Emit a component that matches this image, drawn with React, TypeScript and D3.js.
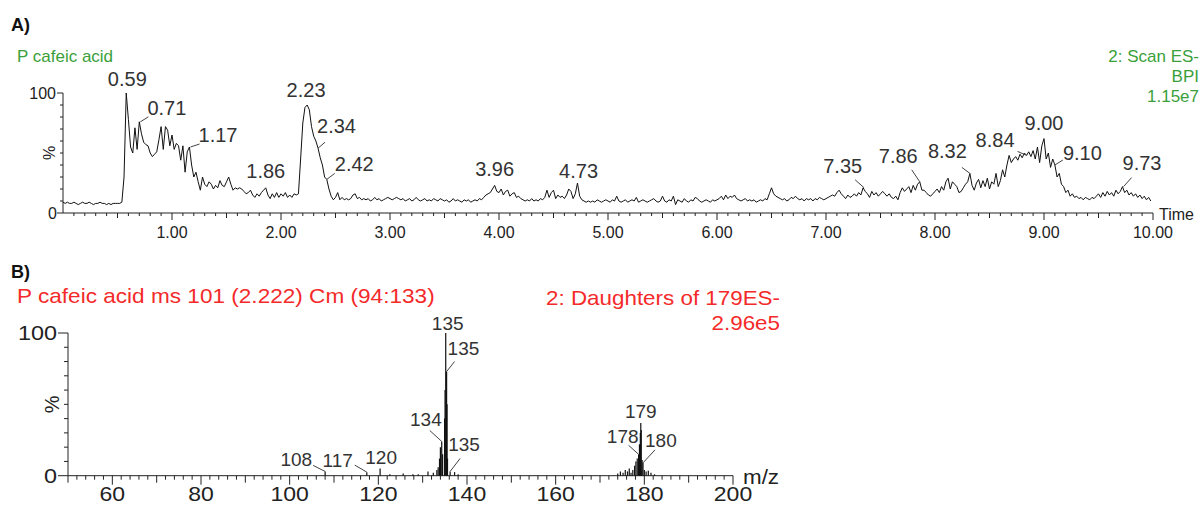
import React from "react";
import * as d3 from "d3";

const FONT = "'Liberation Sans', Arial, sans-serif";
const GREEN = "#3a9f3a";
const RED = "#f42a2a";
const INK = "#222";

// A) base peak chromatogram, % intensity read every 0.02 min from 0.00
const chromStep = 0.02;
const chromPct: number[] = [
  9, 8, 9, 8, 8, 9, 8, 7, 8, 9, 8, 8, 9, 8, 7, 8, 8, 9, 8, 8, 7, 8, 7, 8, 8,
  8, 8, 9, 30, 100, 78, 55, 50, 71, 53, 76, 66, 59, 57, 56, 50, 47, 49, 51, 61, 72, 53, 72, 69, 56,
  65, 53, 58, 56, 44, 56, 34, 51, 55, 40, 30, 34, 26, 19, 30, 24, 22, 26, 24, 20, 23, 21, 27, 23, 22,
  26, 30, 24, 19, 21, 20, 21, 20, 18, 16, 17, 19, 15, 13, 16, 14, 17, 19, 21, 15, 12, 16, 13, 17, 13,
  16, 14, 17, 13, 15, 13, 16, 15, 16, 45, 75, 88, 90, 86, 72, 64, 60, 54, 46, 40, 30, 28, 20, 14, 11,
  13, 17, 11, 13, 11, 12, 11, 12, 15, 16, 12, 13, 11, 12, 11, 12, 10, 11, 13, 11, 12, 10, 11, 12, 13,
  12, 11, 12, 13, 12, 11, 12, 10, 11, 12, 10, 11, 13, 11, 10, 11, 12, 10, 11, 10, 12, 11, 10, 12, 11,
  10, 11, 9, 10, 12, 10, 11, 10, 9, 11, 10, 11, 9, 10, 11, 10, 12, 11, 13, 15, 16, 17, 20, 23, 18,
  17, 20, 15, 18, 19, 14, 16, 17, 13, 14, 12, 11, 10, 11, 10, 12, 10, 11, 10, 12, 11, 13, 19, 13, 17,
  19, 12, 15, 13, 14, 12, 15, 20, 18, 12, 16, 25, 14, 11, 10, 9, 10, 9, 10, 9, 11, 10, 9, 10, 11,
  10, 9, 11, 10, 14, 10, 9, 10, 11, 9, 10, 11, 10, 13, 9, 10, 11, 10, 9, 10, 11, 12, 10, 9, 10,
  14, 10, 9, 11, 10, 14, 7, 11, 10, 9, 12, 10, 9, 11, 10, 13, 12, 10, 9, 10, 11, 10, 9, 11, 10,
  11, 12, 14, 11, 15, 12, 14, 13, 15, 12, 11, 10, 11, 12, 10, 11, 10, 11, 9, 10, 11, 10, 12, 11, 16,
  21, 16, 14, 13, 12, 11, 12, 10, 11, 13, 12, 14, 12, 11, 12, 10, 12, 11, 12, 10, 12, 11, 13, 12, 11,
  12, 13, 14, 15, 14, 17, 19, 16, 14, 12, 15, 13, 14, 16, 14, 17, 15, 21, 18, 16, 13, 18, 15, 17, 14,
  16, 18, 16, 14, 16, 13, 12, 14, 11, 17, 21, 18, 20, 22, 17, 23, 19, 24, 26, 19, 19, 17, 15, 14, 16,
  18, 20, 17, 22, 19, 26, 29, 20, 26, 24, 22, 17, 18, 21, 24, 26, 33, 23, 19, 25, 28, 21, 27, 22, 29,
  20, 26, 24, 33, 22, 27, 36, 30, 40, 48, 42, 45, 47, 44, 49, 46, 50, 48, 51, 47, 52, 45, 55, 42, 56,
  62, 45, 50, 38, 45, 40, 30, 33, 24, 22, 17, 19, 14, 16, 13, 14, 12, 13, 11, 13, 12, 11, 13, 12, 14,
  16, 13, 17, 14, 18, 15, 17, 14, 19, 16, 18, 22, 17, 19, 15, 17, 14, 16, 13, 15, 12, 14, 11, 13, 10,
];
const chromPeakLabels = ["0.59", "0.71", "1.17", "1.86", "2.23", "2.34", "2.42", "3.96", "4.73",
  "7.35", "7.86", "8.32", "8.84", "9.00", "9.10", "9.73"];
const chromTicks = d3.range(1, 101).map((i) => i / 10);

// B) daughters of 179, stick spectrum
const specMz = [108.0, 117.4, 120.4, 122.6, 125.6, 127.8, 129.0, 131.2, 132.4, 133.2, 133.5, 133.8,
  134.0, 134.3, 134.5, 134.95, 135.05, 135.2, 135.4, 135.5, 135.6, 136.2, 137.2, 138.0,
  174.0, 174.6, 175.2, 175.7, 176.2, 176.6, 177.0, 177.4, 177.8, 178.1, 178.4, 178.7, 178.9,
  179.1, 179.2, 179.3, 179.5, 179.7, 180.0, 180.4, 180.9, 181.5, 182.3];
const specPct = [3, 2.5, 5, 1, 1.5, 1, 1, 3, 2, 4, 6, 12,
  20, 24, 15, 40, 60, 100, 73, 50, 12, 3, 2.5, 1,
  1.5, 3, 2, 4, 3, 5, 2, 4, 7, 10, 12, 15, 22,
  30, 37, 32, 11, 9, 4, 3, 3.5, 2, 1];
const specLabelMz = [135.2, 135.4, 134.3, 136.2, 108.0, 117.4, 120.4, 179.2, 178.7, 179.7];
const specLabelText = ["135", "135", "134", "135", "108", "117", "120", "179", "178", "180"];
const specTicks = d3.range(50, 201, 2);
const pctTicks = d3.range(0, 101, 10);

// label placement relative to the peak point (px, py)
type Lay = { a: "start" | "middle" | "end"; tx: number; ty: number; lx?: number; ly?: number };
const chromLayout: Lay[] = [
  { a: "middle", tx: 0, ty: -7 },
  { a: "start", tx: 7, ty: -7, lx: 8, ly: -5 },
  { a: "start", tx: 8, ty: -5, lx: 9, ly: -3 },
  { a: "middle", tx: 0, ty: -10 },
  { a: "middle", tx: 0, ty: -8 },
  { a: "start", tx: -1, ty: -15, lx: 7, ly: -6 },
  { a: "start", tx: 8, ty: -8, lx: 8, ly: -6 },
  { a: "middle", tx: 0, ty: -9 },
  { a: "middle", tx: 0, ty: -5 },
  { a: "end", tx: -2, ty: -15, lx: -9, ly: -8 },
  { a: "end", tx: -2, ty: -19, lx: -8, ly: -12 },
  { a: "end", tx: -3, ty: -15, lx: -8, ly: -6 },
  { a: "end", tx: -12, ty: -8, lx: -9, ly: -4 },
  { a: "middle", tx: 0, ty: -9 },
  { a: "start", tx: 8, ty: -5, lx: 8, ly: -5 },
  { a: "start", tx: -1, ty: -17, lx: 8, ly: -9 },
];
const specLayout: Lay[] = [
  { a: "middle", tx: 2, ty: -3 },
  { a: "start", tx: 1, ty: -17, lx: 8, ly: -10 },
  { a: "end", tx: 0, ty: -15, lx: -12, ly: -11 },
  { a: "start", tx: -2, ty: -20, lx: 10, ly: -13 },
  { a: "end", tx: -13, ty: -5, lx: -12, ly: -6 },
  { a: "end", tx: -14, ty: -5, lx: -12, ly: -7 },
  { a: "middle", tx: 1, ty: -5 },
  { a: "middle", tx: 0, ty: -5 },
  { a: "end", tx: 0, ty: -11, lx: -10, ly: -9 },
  { a: "start", tx: 2, ty: -16, lx: 12, ly: -13 },
];

const xA = d3.scaleLinear().domain([0, 10]).range([63, 1153]);
const yA = d3.scaleLinear().domain([0, 100]).range([213, 93]);
const xB = d3.scaleLinear().domain([50, 200]).range([68, 733]);
const yB = d3.scaleLinear().domain([0, 100]).range([475.7, 333]);

function SText({ x, y, sx = 1, anchor = "start", size, fill = INK, weight, children }: any) {
  return (
    <text transform={`translate(${x},${y}) scale(${sx},1)`} textAnchor={anchor}
      fontSize={size} fill={fill} fontWeight={weight}>{children}</text>
  );
}

function PeakLabel({ px, py, text, lay, size }: { px: number; py: number; text: string; lay: Lay; size: number }) {
  return (
    <g>
      {lay.lx !== undefined && (
        <line x1={px} y1={py} x2={px + lay.lx} y2={py + (lay.ly ?? 0)} stroke="#444" strokeWidth={1} />
      )}
      <text x={px + lay.tx} y={py + lay.ty} textAnchor={lay.a} fontSize={size} fill="#333">{text}</text>
    </g>
  );
}

export default function App() {
  const pts: [number, number][] = chromPct.map((v, i) => [i * chromStep, v]);
  const trace = d3.line<[number, number]>().x((d) => xA(d[0])).y((d) => yA(d[1]))(pts) ?? "";

  const chromPeakY = (t: number) =>
    d3.max(pts.filter((p) => Math.abs(p[0] - t) <= 0.0105), (p) => p[1]) ?? 0;

  return (
    <div style={{ position: "absolute", left: 0, top: 0, width: 1201, height: 508, background: "#fff" }}>
      <svg width={1201} height={508} fontFamily={FONT} style={{ display: "block" }}>
        {/* ---------- A ---------- */}
        <text x={11} y={31} fontSize={18} fontWeight="bold" fill="#111">A)</text>
        <text x={17} y={62} fontSize={17} fill={GREEN}>P cafeic acid</text>
        <text x={1199} y={62} fontSize={17} fill={GREEN} textAnchor="end">2: Scan ES-</text>
        <text x={1199} y={82} fontSize={17} fill={GREEN} textAnchor="end">BPI</text>
        <text x={1199} y={102} fontSize={17} fill={GREEN} textAnchor="end">1.15e7</text>

        <line x1={xA(0)} x2={xA(10)} y1={yA(0)} y2={yA(0)} stroke={INK} />
        <line x1={xA(0)} x2={xA(0)} y1={yA(0)} y2={yA(100)} stroke={INK} />
        {chromTicks.map((t, i) => {
          const k = i + 1;
          const len = k % 10 === 0 ? 7 : k % 5 === 0 ? 5 : 3;
          return <line key={k} x1={xA(t)} x2={xA(t)} y1={yA(0)} y2={yA(0) + len} stroke={INK} />;
        })}
        {chromTicks.filter((_, i) => (i + 1) % 10 === 0).map((t) => (
          <text key={t} x={xA(t)} y={238} textAnchor="middle" fontSize={16} fill={INK}>{t.toFixed(2)}</text>
        ))}
        {pctTicks.map((p) => (
          <line key={p} x1={xA(0)} x2={xA(0) - (p === 0 || p === 100 ? 6 : 3)} y1={yA(p)} y2={yA(p)} stroke={INK} />
        ))}
        <text x={56} y={yA(100) + 6} textAnchor="end" fontSize={16} fill={INK}>100</text>
        <text x={57} y={yA(0) + 6} textAnchor="end" fontSize={16} fill={INK}>0</text>
        <text transform={`translate(49,${yA(50)}) rotate(-90)`} textAnchor="middle" dominantBaseline="central"
          fontSize={16} fill={INK}>%</text>
        <text x={1159} y={220} fontSize={16} fill={INK}>Time</text>

        <path d={trace} fill="none" stroke="#111" strokeWidth={1} strokeLinejoin="round" />
        {chromPeakLabels.map((lab, i) => {
          const t = parseFloat(lab);
          return <PeakLabel key={i} px={xA(t)} py={yA(chromPeakY(t))} text={lab} lay={chromLayout[i]} size={20} />;
        })}

        {/* ---------- B ---------- */}
        <text x={11} y={278} fontSize={18} fontWeight="bold" fill="#111">B)</text>
        <SText x={17} y={303} sx={1.13} size={20} fill={RED}>P cafeic acid ms 101 (2.222) Cm (94:133)</SText>
        <SText x={780} y={305} sx={1.12} size={20} fill={RED} anchor="end">2: Daughters of 179ES-</SText>
        <SText x={780} y={330} sx={1.12} size={20} fill={RED} anchor="end">2.96e5</SText>

        <line x1={xB(50)} x2={xB(200)} y1={yB(0)} y2={yB(0)} stroke={INK} />
        <line x1={xB(50)} x2={xB(50)} y1={yB(0)} y2={yB(100)} stroke={INK} />
        {specTicks.map((m) => {
          const len = m % 20 === 0 ? 9 : m % 10 === 0 ? 7 : 4;
          return <line key={m} x1={xB(m)} x2={xB(m)} y1={yB(0)} y2={yB(0) + len} stroke={INK} />;
        })}
        {specTicks.filter((m) => m % 20 === 0).map((m) => (
          <SText key={m} x={xB(m)} y={501} sx={1.18} size={19.5} anchor="middle">{m}</SText>
        ))}
        {pctTicks.map((p) => (
          <line key={p} x1={xB(50)} x2={xB(50) - (p === 0 || p === 100 ? 10 : 4)} y1={yB(p)} y2={yB(p)} stroke={INK} />
        ))}
        <SText x={57} y={yB(100) + 7} sx={1.2} size={19.5} anchor="end">100</SText>
        <SText x={57} y={yB(0) + 7} sx={1.2} size={19.5} anchor="end">0</SText>
        <text transform={`translate(52,${yB(50)}) rotate(-90)`} textAnchor="middle" dominantBaseline="central"
          fontSize={20} fill={INK}>%</text>
        <SText x={743} y={484} sx={1.12} size={20}>m/z</SText>

        {specMz.map((m, i) => (
          <line key={i} x1={xB(m)} x2={xB(m)} y1={yB(0)} y2={yB(specPct[i])} stroke="#111" strokeWidth={1.2} />
        ))}
        {specLabelMz.map((m, i) => {
          const j = specMz.indexOf(m);
          return <PeakLabel key={i} px={xB(m)} py={yB(specPct[j])} text={specLabelText[i]} lay={specLayout[i]} size={19} />;
        })}
      </svg>
    </div>
  );
}
